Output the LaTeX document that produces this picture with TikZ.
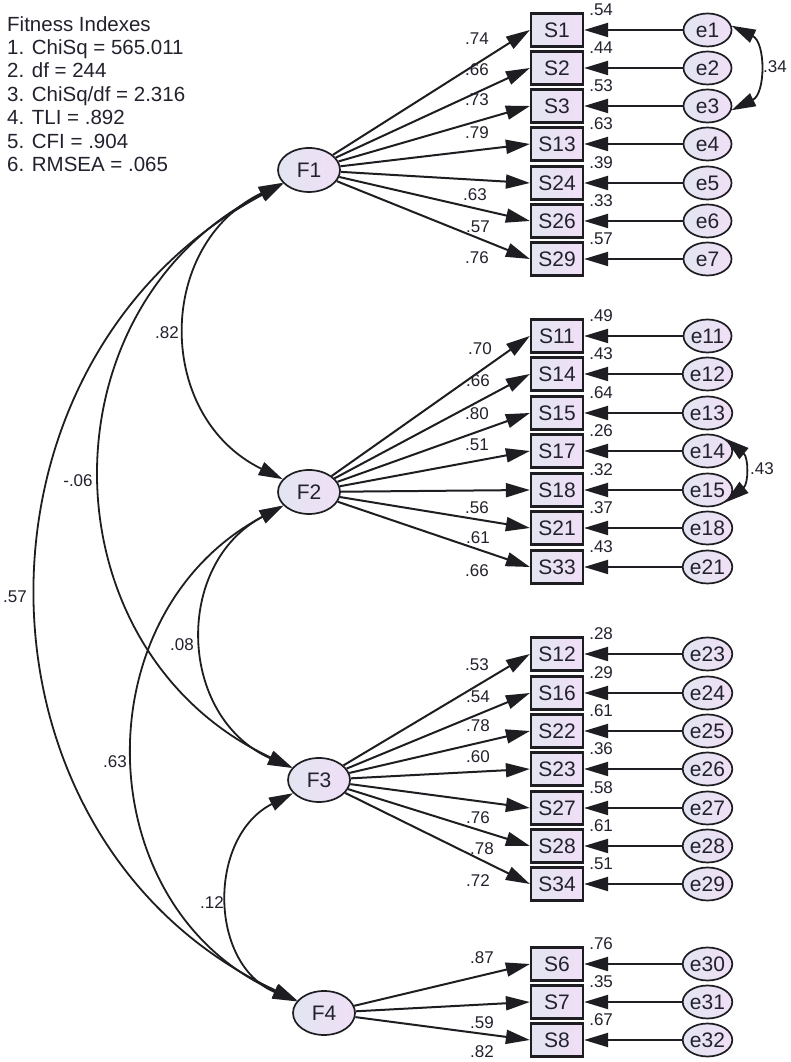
\documentclass[tikz,border=0pt]{standalone}
\usepackage{fontspec}
\setmainfont{Liberation Sans}
\usetikzlibrary{shapes.geometric,arrows.meta}
\definecolor{ink}{RGB}{34,34,46}
\definecolor{edge}{RGB}{30,30,34}
\definecolor{fillL}{RGB}{226,229,241}
\definecolor{fillR}{RGB}{240,223,246}
\tikzset{
  amos/.tip={Triangle[length=24pt,width=14pt]},
  lat/.style={ellipse, draw=edge, line width=1.7pt, left color=fillL, right color=fillR,
    minimum width=62pt, minimum height=44pt, inner sep=0pt, text=ink,
    font=\fontsize{21}{25}\selectfont},
  err/.style={lat, minimum width=48pt, minimum height=33pt},
  obs/.style={rectangle, draw=edge, line width=2.2pt, left color=fillL, right color=fillR,
    minimum width=52pt, minimum height=33pt, inner sep=0pt, text=ink,
    font=\fontsize{21}{25}\selectfont},
  regr/.style={line width=2pt, draw=edge, -amos},
  corr/.style={line width=1.8pt, draw=edge, amos-amos},
  num/.style={inner sep=0pt, text=ink, font=\fontsize{17}{19}\selectfont},
}
\begin{document}
\begin{tikzpicture}[x=1pt,y=1pt]
\fill[white] (0,0) rectangle (790,1062);
\useasboundingbox (0,0) rectangle (790,1062);

% fit statistics
\node[anchor=north west, inner sep=0pt, align=left, text=ink,
      font=\fontsize{20.5}{23.4}\selectfont] (fit) at (7,1046)
  {Fitness Indexes\\1. ChiSq = 565.011\\2. df = 244\\3. ChiSq/df = 2.316\\4. TLI = .892\\5. CFI = .904\\6. RMSEA = .065};

% latent factors
\node[lat] (F1) at (309,892) {F1};
\node[lat] (F2) at (309,570) {F2};
\node[lat] (F3) at (319,282) {F3};
\node[lat] (F4) at (324,49) {F4};

% indicators, error terms, loadings and squared multiple correlations
\foreach \sn/\en/\yy/\rv/\fn/\lx/\ly/\lv in {
  1/1/1032/.54/1/477/1023/.74,
  2/2/994/.44/1/477/992/.66,
  3/3/956/.53/1/477/962/.73,
  13/4/918/.63/1/477/929/.79,
  24/5/879/.39/1/475/867/.63,
  26/6/841/.33/1/478/835/.57,
  29/7/803/.57/1/477/804/.76,
  11/11/726/.49/2/480/713/.70,
  14/12/688/.43/2/478/681/.66,
  15/13/649/.64/2/477/648/.80,
  17/14/611/.26/2/477/617/.51,
  18/15/572/.32/2/477/554/.56,
  21/18/534/.37/2/478/524/.61,
  33/21/495/.43/2/477/491/.66,
  12/23/408/.28/3/477/397/.53,
  16/24/369/.29/3/478/365/.54,
  22/25/331/.61/3/478/336/.78,
  23/26/293/.36/3/478/305/.60,
  27/27/254/.58/3/478/244/.76,
  28/28/216/.61/3/482/213/.78,
  34/29/178/.51/3/478/181/.72,
  6/30/98/.76/4/482/104/.87,
  7/31/60/.35/4/482/39/.59,
  8/32/22/.67/4/482/10/.82}{
  \node[obs] (S\sn) at (557,\yy) {S\sn};
  \node[err] (e\en) at (707.5,\yy) {e\en};
  \draw[regr] (F\fn) -- (S\sn.west);
  \draw[regr] (e\en) -- (S\sn);
  \node[num] (r\sn) at ([shift={(17,3)}]S\sn.north east) {\rv};
  \node[num] (l\sn) at (\lx,\ly) {\lv};
}

% factor covariances
\draw[corr] (F1) to[out=206,in=154,distance=142pt] (F2);
\draw[corr] (F1) to[out=207,in=155,distance=275pt] (F3);
\draw[corr] (F1) to[out=208,in=155,distance=375pt] (F4);
\draw[corr] (F2) to[out=208,in=156,distance=125pt] (F3);
\draw[corr] (F2) to[out=208,in=156,distance=230pt] (F4);
\draw[corr] (F3) to[out=207,in=157,distance=96pt] (F4);
\node[num] (c12) at (167,729) {.82};
\node[num] (c13) at (78,581) {-.06};
\node[num] (c14) at (15,465) {.57};
\node[num] (c23) at (182,417) {.08};
\node[num] (c24) at (115,300) {.63};
\node[num] (c34) at (212,159) {.12};

% error covariances
\draw[corr] (e1.10) to[out=-26,in=26,distance=38pt] (e3.-10);
\node[num] (ce13) at (775,995) {.34};
\draw[corr] (e14.35) to[out=-39,in=39,distance=30pt] (e15.-35);
\node[num] (ce1415) at (762,593) {.43};
\end{tikzpicture}
\end{document}
